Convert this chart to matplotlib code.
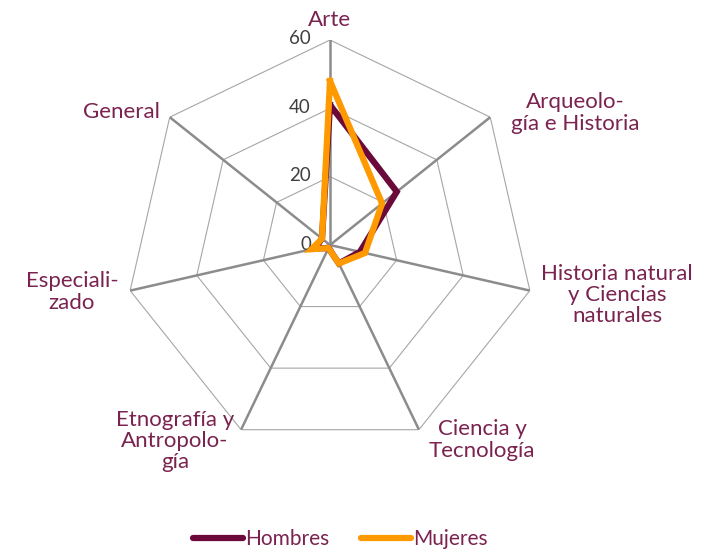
import numpy as np
import matplotlib
matplotlib.use("Agg")
import matplotlib.pyplot as plt
from matplotlib.lines import Line2D
from matplotlib.transforms import offset_copy

plt.rcParams["font.family"] = ["Lato", "DejaVu Sans"]

# Data
CATEGORIES = ["Arte", "Arqueología e Historia", "Historia natural y Ciencias naturales",
              "Ciencia y Tecnología", "Etnografía y Antropología", "Especializado", "General"]
HOMBRES = [41, 25, 9, 6, 1, 4.5, 3]
MUJERES = [48, 19.5, 10.5, 6, 1, 5.5, 3]
GRID_LEVELS = [20, 40, 60]
TICK_LEVELS = [0, 20, 40, 60]

# label text and placement (pixel centres in the 706x550 canvas)
LABELS = ["Arte", "Arqueolo-\ngía e Historia", "Historia natural\ny Ciencias\nnaturales",
          "Ciencia y\nTecnología", "Etnografía y\nAntropolo-\ngía", "Especiali-\nzado", "General"]
LABEL_POS = [(330, 20), (575, 113), (617, 295), (482, 440), (175, 441), (72, 292), (121, 112)]

C_HOM = "#6b0a3a"
C_MUJ = "#ff9900"
C_TXT = "#7a2350"
C_AXIS = "#8c8c8c"
C_GRID = "#a6a6a6"

W, H = 706, 550
CX, CY, R = 330, 245, 205

fig = plt.figure(figsize=(W / 100, H / 100), dpi=100)
ax = fig.add_axes([(CX - R) / W, (H - CY - R) / H, 2 * R / W, 2 * R / H], projection="polar")
ax.set_theta_zero_location("N")
ax.set_theta_direction(-1)
ax.set_ylim(0, 60)
ax.grid(False)
ax.spines["polar"].set_visible(False)
ax.set_xticks([])
ax.set_yticks([])
ax.patch.set_alpha(0)

n = len(CATEGORIES)
theta = np.arange(n) * 2 * np.pi / n
theta_c = np.append(theta, theta[0])

# polygon grid
for lvl in GRID_LEVELS:
    ax.plot(theta_c, [lvl] * (n + 1), color=C_GRID, lw=0.8, zorder=1)
# spokes
for t in theta:
    ax.plot([t, t], [0, 60], color=C_AXIS, lw=1.8, zorder=1)

for vals, col in [(HOMBRES, C_HOM), (MUJERES, C_MUJ)]:
    v = np.append(vals, vals[0])
    ax.plot(theta_c, v, color=col, lw=4.5, solid_joinstyle="miter", zorder=3)

# radial tick labels, left of the top spoke
tick_tr = offset_copy(ax.transData, fig=fig, x=-19, y=1, units="dots")
for lvl in TICK_LEVELS:
    ax.text(0, lvl, f"{lvl}", ha="right", va="center", fontsize=13.5,
            color="#404040", zorder=2, transform=tick_tr)

for txt, (px, py) in zip(LABELS, LABEL_POS):
    fig.text(px / W, 1 - py / H, txt, ha="center", va="center", fontsize=16,
             color=C_TXT, linespacing=1.08)

handles = [Line2D([0], [0], color=C_HOM, lw=4.5, solid_capstyle="round"),
           Line2D([0], [0], color=C_MUJ, lw=4.5, solid_capstyle="round")]
fig.legend(handles, ["Hombres", "Mujeres"], loc="center", bbox_to_anchor=(0.482, 1 - 539 / H),
           ncol=2, frameon=False, fontsize=15, labelcolor=C_TXT, handlelength=2.4,
           handletextpad=0.1, columnspacing=1.5)

fig.savefig("out.png", dpi=100)
